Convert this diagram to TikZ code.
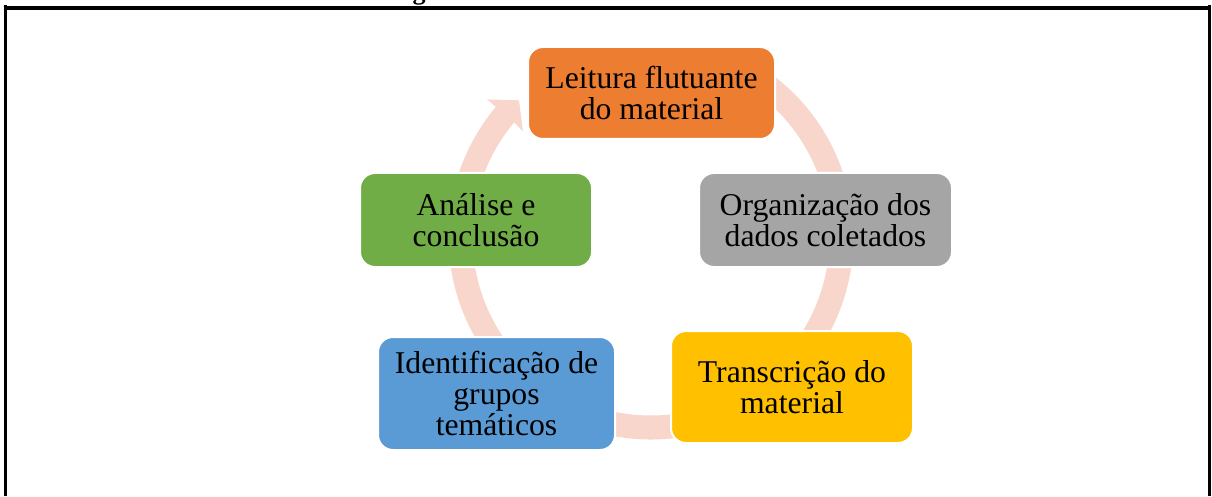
\documentclass[tikz,border=0pt]{standalone}
\usepackage{fontspec}
\setmainfont{Liberation Serif}
\definecolor{cOrange}{HTML}{ED7D31}
\definecolor{cGray}{HTML}{A5A5A5}
\definecolor{cYellow}{HTML}{FFC000}
\definecolor{cBlue}{HTML}{5B9BD5}
\definecolor{cGreen}{HTML}{70AD47}
\definecolor{cRing}{HTML}{F8D6CC}
\begin{document}
\begin{tikzpicture}[x=1pt,y=1pt,
  stagebox/.style={rounded corners=15pt, draw=white, line width=2pt, inner sep=0pt,
    text=black, align=center, font=\fontsize{31.7}{31}\selectfont},
  frameline/.style={line width=3.5pt, black}]
\useasboundingbox (0,0) rectangle (1212,496);
% cut-off caption fragment
\node[anchor=base, inner sep=0pt, font=\fontsize{26}{26}\selectfont\bfseries] (gfrag) at (419,496) {g};
% frame
\coordinate (tl) at (3.8,488);
\coordinate (tr) at (1211,488);
\draw[frameline] (tl) -- (tr);
\draw[frameline] (5.7,491) -- (5.7,0);
\draw[frameline] (1209.5,491) -- (1209.5,0);
% circular arrow
\fill[cRing, shift={(651,259)}] (60:202.5) arc[start angle=60, end angle=-220, radius=202.5]
   -- (140:214) -- (134:190) -- (140.5:166) -- (140:178.5)
   arc[start angle=-220, end angle=60, radius=178.5] -- cycle;
% stages
\node[stagebox, fill=cOrange, minimum width=247pt, minimum height=92pt] (leit) at (651.5,403) {Leitura flutuante\\do material};
\node[stagebox, fill=cGray, minimum width=253pt, minimum height=94pt] (org) at (825.5,276) {Organização dos\\dados coletados};
\node[stagebox, fill=cYellow, minimum width=242pt, minimum height=112pt] (trans) at (792,109) {Transcrição do\\material};
\node[stagebox, fill=cBlue, minimum width=237pt, minimum height=113pt] (ident) at (496.5,102.5) {Identificação de\\grupos\\temáticos};
\node[stagebox, fill=cGreen, minimum width=232pt, minimum height=94pt] (anal) at (476,276) {Análise e\\conclusão};
\end{tikzpicture}
\end{document}
